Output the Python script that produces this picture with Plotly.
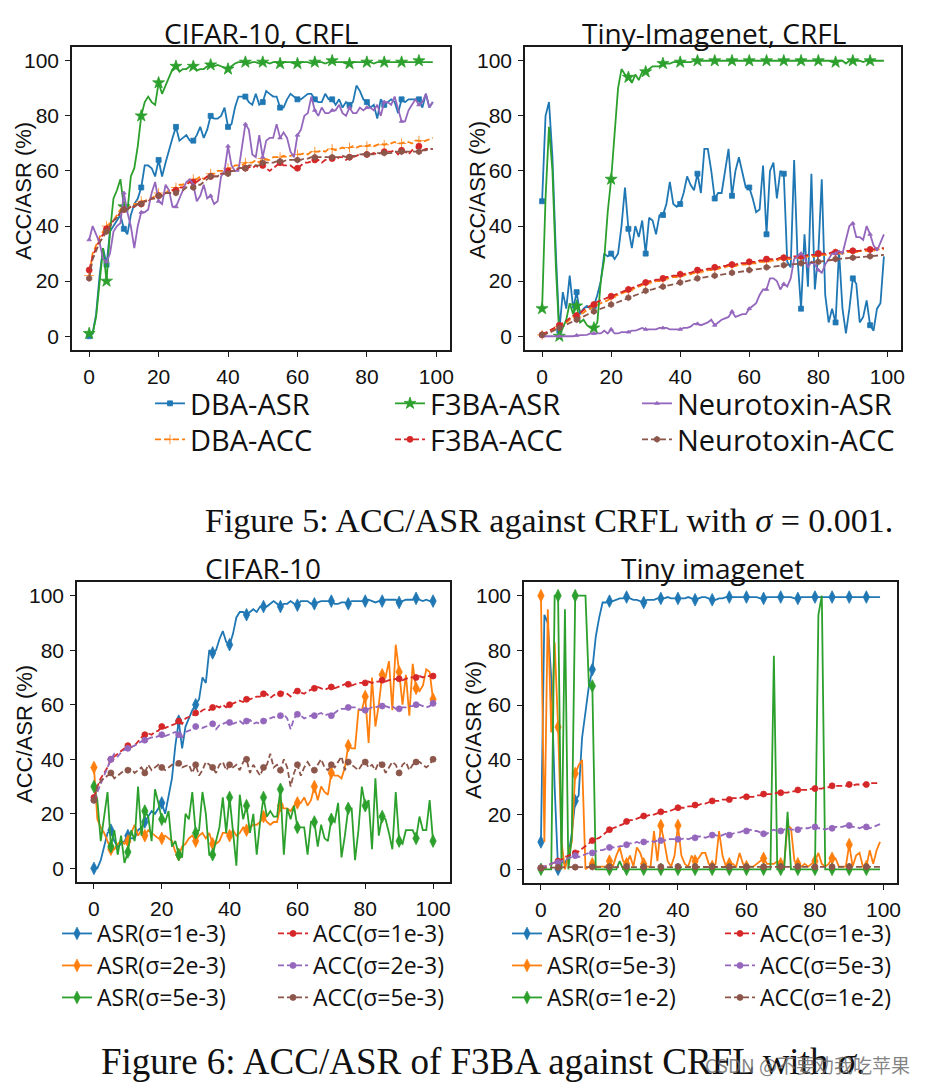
import plotly.graph_objects as go

X100 = list(range(100))
X101 = list(range(101))

# ---------------- Figure 5 left: CIFAR-10, CRFL ----------------
c5_dba_asr = [0, 1, 8, 22, 32, 26, 38, 40, 42, 44,
              39, 37, 44, 48, 50, 54, 62, 62, 61, 58,
              64, 58, 63, 68, 72, 76, 71, 72, 73, 71,
              71, 73, 76, 72, 75, 80, 79, 79, 80, 83,
              76, 77, 83, 87, 87, 87, 85, 84, 88, 84,
              85, 89, 88, 87, 87, 83, 83, 86, 88, 87,
              86, 86, 87, 88, 88, 86, 85, 85, 88, 86,
              86, 84, 86, 83, 85, 84, 85, 91, 89, 86,
              85, 83, 84, 79, 86, 84, 85, 86, 85, 81,
              86, 85, 86, 86, 86, 86, 83, 88, 83, 85]
c5_f3ba_asr = [1, 1, 7, 20, 32, 20, 38, 50, 53, 57,
               47, 45, 58, 61, 69, 80, 85, 87, 85, 84,
               92, 88, 91, 94, 97, 98, 96, 97, 97, 98,
               98, 96.5, 97, 97, 98, 98.5, 98, 98.5, 98, 97.5,
               97, 98, 99, 99.5, 99.5, 99.5, 99, 99.5, 99.5, 99,
               99.5, 99.5, 99, 99.5, 99.5, 99, 99.5, 99.5, 99.5, 99,
               99, 99.5, 99.5, 99.5, 99, 99.5, 99.5, 99.5, 99, 99.5,
               100, 99.5, 99.5, 99.5, 99, 99, 99.5, 99.5, 99.5, 99.5,
               99.5, 99.5, 99, 99.5, 99.5, 99.5, 99.5, 99.5, 99.5, 99.5,
               99.5, 99.5, 99.5, 99.5, 99.5, 100, 99.5, 99.5, 99.5, 99.5]
c5_neuro_asr = [35, 40, 37, 34, 28, 27, 30, 38, 40, 41,
                52, 45, 40, 32, 40, 45, 45, 46, 52, 56,
                49, 48, 55, 53, 47, 47, 50, 53, 56, 57,
                55, 49, 51, 55, 50, 51, 48, 49, 58, 60,
                69, 62, 60, 60, 68, 77, 75, 66, 65, 73,
                65, 71, 72, 72, 77, 72, 74, 72, 67, 65,
                73, 75, 80, 81, 87, 82, 80, 83, 81, 81,
                82, 82, 84, 81, 80, 83, 81, 81, 83, 82,
                83, 83, 82, 84, 80, 85, 85, 84, 87, 82,
                78, 78, 82, 84, 86, 84, 85, 88, 83, 85]
c5_dba_acc = [22, 30, 33, 36, 38, 40, 41, 42, 44, 46,
              47, 47, 47, 48, 48, 49, 49, 50, 50, 51,
              52, 51, 52, 53, 53, 54, 55, 55, 56, 56,
              57, 57, 58, 57, 58, 59, 59, 60, 60, 60,
              61, 61, 62, 62, 62, 63, 63, 63, 64, 63,
              64.5, 64, 64, 65, 65, 65, 65.5, 65, 65.5, 66,
              66, 66, 66.5, 66, 67, 67, 67, 67.5, 67, 68,
              68, 67.5, 68, 68.5, 68, 68.5, 69, 68.5, 69, 69,
              69, 69.5, 69, 69.5, 70, 69.5, 70, 70, 70.5, 70,
              70, 70.5, 70.5, 70, 71, 71, 70.5, 71, 71.5, 72]
c5_f3ba_acc = [24, 29, 32, 35, 37, 39, 40, 42, 43, 45,
               46, 46, 47, 47, 48, 48, 49, 49, 50, 50,
               51, 51, 52, 52, 53, 53, 54, 54, 55, 56,
               56, 56, 57, 57, 58, 58, 58, 58, 59, 59,
               60, 60, 60, 61, 61, 61, 61.5, 61, 62, 61,
               62, 61, 60, 61, 62, 63, 62, 62, 62, 61,
               61, 62, 63, 63, 63.5, 64, 64, 63, 64, 64,
               64.5, 64, 65, 65, 64, 65, 65, 65.5, 66, 66,
               66, 66, 66.5, 66, 66.5, 67, 67, 67, 67.5, 66,
               67.5, 67, 66, 67.5, 68, 69, 67.5, 68, 68, 68]
c5_neuro_acc = [21, 28, 31, 34, 36, 38, 40, 42, 43, 45,
                46, 46, 47, 47, 48, 48, 49, 49, 50, 50,
                51, 51, 52, 52, 52, 52, 53, 53, 54, 54,
                54, 55, 55, 56, 57, 58, 58, 58, 59, 59,
                59, 60, 60, 61, 61, 61, 62, 62, 62, 62,
                63, 63, 63, 63, 63.5, 63.5, 63.5, 64, 64, 64,
                64, 64, 64.5, 64.5, 65, 65, 65, 65, 65, 65,
                65, 65, 65, 65.5, 65, 65, 65.5, 65.5, 66, 66,
                66, 66, 66, 66.5, 66.5, 66.5, 66.5, 66.5, 67, 67,
                67, 67, 67, 67, 67, 67, 67.5, 67.5, 68, 68]

# ---------------- Figure 5 right: Tiny-Imagenet, CRFL ----------------
t5_dba_asr = [49, 80, 85, 65, 30, 2, 16, 10, 22, 10,
              16, 8, 10, 11, 10, 11, 15, 20, 30, 29,
              30, 28, 30, 40, 54, 39, 32, 40, 36, 42,
              30, 43, 42, 37, 44, 44, 48, 56, 48, 47,
              48, 52, 58, 55, 53, 59, 52, 68, 68, 60,
              50, 52, 52, 60, 68, 51, 60, 65, 60, 54,
              54, 50, 45, 46, 62, 37, 60, 63, 50, 60,
              59, 27, 25, 64, 28, 10, 37, 18, 59, 17,
              30, 57, 15, 5, 10, 5, 31, 10, 1, 10,
              21, 19, 5, 7, 13, 4, 2, 10, 12, 29]
t5_f3ba_asr = [10, 50, 76, 60, 25, 0, 3, 6, 12, 8,
               11, 5, 6, 4, 3, 3, 5, 20, 28, 45,
               57, 75, 90, 97, 95, 94, 92, 95, 93, 96,
               96, 97, 98, 98, 98, 99, 99, 99, 99.5, 99.5,
               99.5, 99.5, 99.5, 99.5, 100, 100, 100, 100, 100, 100,
               100, 100, 100, 100, 100, 100, 100, 100, 100, 100,
               100, 100, 100, 100, 100, 100, 100, 100, 100, 100,
               100, 100, 100, 100, 100, 100, 100, 100, 100, 100,
               100, 100, 100, 100, 99.5, 99.5, 100, 100, 99, 100,
               100, 100, 100, 99.5, 100, 100, 100, 100, 100, 100]
t5_neuro_asr = [0, 0, 0, 0, 0, 0, 0, 0, 0, 0,
                0.3, 0.3, 0.5, 0.5, 1, 1, 1, 1, 2, 1,
                2.5, 1, 1, 1.5, 1.5, 1.5, 2, 2, 2.5, 3,
                2.5, 2.5, 2.5, 2.5, 3, 3, 3, 2.5, 2.5, 2.5,
                2.5, 3, 3, 3.5, 4.5, 4.5, 4, 4.5, 5, 6,
                4, 5, 6, 6.5, 7, 9, 7, 7.5, 8, 8,
                10, 11, 12, 15, 17, 17, 21, 21, 20, 17,
                19, 18, 21, 28, 29, 30, 29, 25, 27, 26,
                24, 23, 26, 28, 30, 30, 31, 30, 35, 40,
                41, 36, 36, 35, 40, 37, 33, 31, 34, 37]
t5_dba_acc = [0.5, 1, 1.5, 2, 3, 3.5, 4, 5, 6, 6.5,
              7, 8, 8.5, 9.5, 10, 11, 11.5, 12, 12.5, 13,
              14, 14.5, 15, 15.5, 16, 16.5, 17, 17.5, 18, 18.5,
              19, 19.5, 19.5, 20, 20, 20.5, 21, 21, 21.5, 21.5,
              22, 22, 22.5, 22.5, 23, 23, 23.5, 23.5, 24, 24,
              24.5, 24.5, 25, 25, 25.5, 25.5, 25.5, 26, 26, 26,
              26.5, 26.5, 26.5, 27, 27, 27, 27.5, 27.5, 27.5, 28,
              28, 28, 28, 28.5, 28.5, 28.5, 28.5, 29, 29, 29,
              29.5, 29.5, 29.5, 29.5, 30, 30, 30, 30, 30.5, 30.5,
              30.5, 30.5, 31, 31, 31, 31, 31, 31.5, 31.5, 31.5]
t5_f3ba_acc = [0.5, 1.2, 2, 2.5, 3.5, 4, 4.8, 5.5, 6.5, 7.5,
               7.5, 8.5, 9.5, 10.5, 11, 11.5, 12.5, 13, 13.5, 14,
               14.5, 15, 15.5, 16, 16.5, 17, 17.5, 18, 18.5, 19,
               19.5, 20, 20, 20.5, 20.5, 21, 21.5, 21.5, 22, 22,
               22.5, 22.5, 23, 23, 23.5, 24, 24, 24, 24.5, 24.5,
               25, 25, 25.5, 25.5, 26, 26, 26, 26.5, 26.5, 26.5,
               27, 27, 27, 27.5, 27.5, 28, 28, 28, 28, 28.5,
               28.5, 28.5, 28.5, 29, 29, 29, 29, 29.5, 29.5, 29.5,
               30, 30, 30, 30, 30.5, 30.5, 30.5, 30.5, 31, 31,
               31, 31, 31, 31.5, 31.5, 31.5, 31.5, 32, 32, 32]
t5_neuro_acc = [0.5, 0.8, 1.2, 1.8, 2.4, 3, 3.5, 4.2, 4.8, 5.5,
                6, 6.5, 7, 7.8, 8.5, 9, 9.5, 10, 10.5, 11,
                11.5, 12, 12.5, 13, 13.5, 14, 14.5, 15, 15.5, 16,
                16.5, 16.8, 17, 17.5, 17.8, 18, 18.3, 18.7, 19, 19.2,
                19.5, 19.8, 20, 20.3, 20.6, 21, 21.2, 21.4, 21.6, 21.8,
                22, 22.2, 22.4, 22.6, 22.8, 23, 23.2, 23.4, 23.6, 23.8,
                24, 24.2, 24.3, 24.5, 24.7, 25, 25.1, 25.3, 25.5, 25.6,
                25.8, 25.9, 26, 26.2, 26.3, 26.5, 26.6, 26.7, 26.8, 27,
                27, 27.2, 27.4, 27.6, 27.8, 28, 28.1, 28.2, 28.3, 28.5,
                28.5, 28.6, 28.7, 28.8, 28.9, 29, 29, 29.2, 29.3, 29.5]

# ---------------- Figure 6 left: CIFAR-10 ----------------
c6_asr_1 = [0, 0, 3, 8, 13, 14, 10, 8, 9, 10,
            12, 11, 11, 14, 15, 17, 19, 21, 20, 22,
            24, 20, 27, 33, 45, 54, 44, 52, 55, 58,
            60, 62, 70, 68, 80, 79, 80, 84, 87, 83,
            82, 86, 92, 94, 94, 93, 94, 95, 94, 96,
            96, 96, 97, 98, 97, 96, 97, 97, 98, 97,
            96.5, 98, 98, 98, 97, 97, 97.5, 98, 98, 98,
            98, 97, 97, 97.5, 97.5, 97, 98, 98, 98, 98,
            98, 98.5, 98, 97.5, 98, 98, 98.5, 98.5, 98.5, 98.5,
            97.5, 98, 98.5, 98.5, 98.5, 99, 98.5, 98, 98.5, 98,
            98]
c6_asr_2 = [37, 18, 15, 13, 10, 7, 7, 9, 10, 9,
            10, 13, 16, 12, 14, 12, 14, 13, 12, 11,
            11, 12, 11, 10, 6, 5, 8, 9, 11, 12,
            10, 12, 13, 11, 13, 9, 9, 10, 13, 13,
            12, 14, 12, 13, 15, 14, 15, 16, 16, 17,
            19, 17, 16, 17, 17, 23, 22, 22, 21, 23,
            24, 24, 26, 23, 25, 30, 25, 30, 28, 27,
            35, 34, 34, 33, 37, 45, 44, 44, 58, 58,
            63, 46, 70, 52, 60, 71, 70, 76, 58, 82,
            72, 60, 71, 56, 75, 66, 65, 67, 73, 72,
            62]
c6_asr_5 = [30, 25, 10, 20, 28, 8, 14, 5, 12, 2,
            6, 14, 10, 30, 12, 21, 19, 10, 29, 24,
            18, 17, 21, 8, 10, 5, 4, 20, 18, 28,
            13, 14, 28, 20, 5, 5, 10, 15, 26, 13,
            26, 12, 1, 27, 18, 23, 13, 20, 5, 17,
            26, 19, 21, 19, 19, 29, 5, 22, 18, 23,
            15, 15, 15, 5, 17, 17, 8, 16, 11, 10,
            18, 17, 24, 4, 12, 22, 22, 3, 14, 30,
            23, 25, 7, 33, 12, 19, 18, 13, 7, 28,
            10, 9, 14, 14, 14, 11, 19, 14, 14, 25,
            10]
c6_acc_1 = [26, 30, 33, 35, 37, 40, 41, 42, 43, 44,
            45, 44.5, 45, 46.5, 48, 49, 49.5, 49, 50, 50.5,
            52, 51.5, 52, 52.5, 53, 54, 53, 55, 55.5, 56,
            57, 57, 58, 58.5, 58, 59, 59.5, 59, 60, 59,
            60, 60.5, 61, 61.5, 61, 62, 62, 62.5, 63, 63,
            64, 64, 62.5, 63.5, 64, 64, 64.5, 64, 63, 64.5,
            65, 64.5, 64, 65, 65.5, 66, 66.5, 66, 65.5, 66,
            66.5, 66, 66.5, 67, 67.5, 67.5, 67, 67.5, 68, 68,
            68, 68.5, 68, 68.5, 68.5, 69, 68.5, 69, 69, 69.5,
            69.5, 69, 69.5, 70, 70, 70, 70.5, 70, 70.5, 70.5,
            70.5]
c6_acc_2 = [25, 28, 31, 34, 37, 40, 42, 41, 42.5, 43.5,
            44, 44.5, 45, 46, 46.5, 47, 47.5, 48, 48, 48.5,
            49, 48.5, 49, 49.5, 50, 49, 48, 50, 50.5, 51,
            52, 52, 51.5, 52, 52.5, 53, 51, 52.5, 53, 53.5,
            53.5, 53, 53.5, 54, 53, 54, 54.5, 53, 53.5, 53,
            54, 54.5, 55, 55.5, 55, 56, 56.5, 55, 51, 55,
            56.5, 56, 55, 55.5, 56, 56, 56.5, 57, 56, 56.5,
            56, 57, 58, 58.5, 58.5, 59, 59, 59, 58.5, 58,
            58, 58.5, 59, 59, 59.5, 59.5, 59.5, 59, 59.5, 58.5,
            58.5, 59, 59, 59.5, 59.5, 60, 60, 59.5, 59, 59.5,
            60.5]
c6_acc_5 = [25, 30, 32, 33, 34, 35, 33, 34, 35, 36,
            36, 36.5, 35, 36, 37, 35, 38, 36, 37, 38,
            37, 36, 37, 38, 37.5, 38.5, 37, 37.5, 38, 35,
            38, 34, 36, 39, 38, 37, 35, 38, 39, 36,
            38, 37, 38, 36, 39, 40, 35, 38, 36, 34,
            37, 38, 42, 37, 38, 36, 40, 37, 30, 35,
            38, 34, 37, 39, 37, 36, 38, 40, 37, 36,
            38, 37, 39, 41, 36, 39, 38, 37, 36, 38,
            39, 37, 38, 36, 39, 38, 35, 37, 39, 38,
            35, 38, 39, 36, 38, 39, 39, 38, 37, 38,
            40]

# ---------------- Figure 6 right: Tiny imagenet ----------------
t6_asr_1 = [10, 93, 90, 70, 30, 0, 3, 2, 5, 13,
            25, 27, 48, 58, 67, 73, 85, 92, 97.5, 97.5,
            98, 98, 98.5, 99, 99, 99.5, 99, 98.5, 98.5, 98,
            97.5, 98.5, 98.5, 98.5, 99, 99, 99, 99.5, 99, 99,
            99, 99, 99, 99.5, 99, 98.5, 99, 99.5, 99.5, 99,
            98.5, 98.5, 99, 99, 99.5, 99.5, 99.5, 99.5, 99.5, 99.5,
            99.5, 99.5, 99.5, 99.5, 99, 99, 99.5, 99.5, 99.5, 99.5,
            99.5, 99.5, 99.5, 99.5, 99, 99, 99.5, 99.5, 99.5, 99.5,
            99.5, 99.5, 99.5, 99.5, 99.5, 99.5, 99.5, 99.5, 99.5, 99.5,
            99.5, 99.5, 99.5, 99.5, 99.5, 99.5, 99.5, 99.5, 99.5, 99.5]
t6_asr_5 = [100, 10, 95, 50, 83, 52, 10, 0, 5, 10,
            35, 38, 40, 0, 1, 2, 1, 1, 1, 1,
            3, 1, 5, 8, 3, 2, 5, 1, 8, 6,
            2, 1, 1, 14, 3, 16, 10, 3, 1, 5,
            16, 5, 2, 1, 5, 3, 4, 6, 6, 2,
            1, 2, 14, 5, 1, 2, 2, 1, 6, 2,
            1, 1, 1, 2, 3, 4, 2, 2, 2, 3,
            2, 2, 16, 15, 3, 2, 1, 2, 1, 2,
            3, 6, 2, 1, 2, 4, 4, 1, 1, 1,
            9, 1, 5, 6, 1, 1, 7, 2, 7, 10]
t6_asr_10 = [0, 0, 0, 0, 100, 100, 0, 95, 0, 12,
             100, 100, 100, 100, 67, 67, 0, 0, 0, 0,
             0, 0, 0, 3, 0, 0, 0, 0, 0, 0,
             0, 0, 0, 0, 0, 0, 0, 0, 0, 0,
             0, 0, 0, 0, 0, 0, 0, 0, 0, 0,
             0, 0, 0, 0, 0, 0, 0, 0, 0, 0,
             0, 0, 0, 0, 0, 0, 0, 0, 78, 0,
             0, 0, 21, 0, 0, 0, 0, 0, 0, 0,
             0, 93, 100, 0, 0, 0, 0, 0, 0, 0,
             0, 0, 0, 0, 0, 0, 0, 0, 0, 0]
t6_acc_1 = [0.5, 1, 1.5, 2, 2.5, 3, 3.5, 4.5, 5, 5.5,
            6, 6.5, 7.5, 8.5, 9.5, 10.5, 11, 11.5, 12.5, 13.5,
            14.5, 15, 15.5, 16, 16.5, 17.5, 18, 18, 18.5, 19,
            19.5, 19.5, 20, 20, 20.5, 21, 21, 21, 21.5, 22,
            22.5, 22.5, 22.5, 23, 23, 23.5, 23.5, 24, 24, 24.5,
            25, 25, 25, 25.5, 25.5, 25.5, 26, 26, 26, 26.5,
            26.5, 26.5, 26.5, 27, 27, 27.5, 27.5, 27.5, 27.5, 28,
            28, 28, 28, 28.5, 28.5, 29, 29, 29, 29, 29.5,
            29.5, 29.5, 29.5, 30, 30, 30.5, 30.5, 30.5, 30.5, 30.5,
            31, 30.5, 31, 31, 31, 31, 31.5, 31.5, 31.5, 32]
t6_acc_5 = [0.5, 1, 1.5, 2, 2.5, 2.5, 3, 3.5, 4, 4.5,
            5, 4.5, 5, 5.5, 6, 6, 6.5, 7, 7, 7.5,
            8, 8, 8, 8.5, 8.5, 9, 9.5, 9.5, 10, 9.5,
            10, 10, 10.5, 10, 10.5, 10.5, 10.5, 11, 11, 11,
            11, 11, 11.5, 11, 11.5, 11.5, 12, 12, 11.5, 12,
            12.5, 12.5, 12, 12.5, 13, 12.5, 13, 13.5, 13.5, 14,
            14, 14.5, 14, 14, 13.5, 13, 13, 14, 14.5, 14,
            14, 14.5, 15, 14.5, 14.5, 14.5, 15, 15, 15, 15.5,
            15.5, 15, 15, 14.5, 15, 15, 15.5, 15.5, 15.5, 16,
            16, 15.5, 15.5, 15, 15.5, 15.5, 15, 15.5, 16, 16.5]
t6_acc_10 = [0.5, 0.5, 0.6, 0.6, 0.7, 0.7, 0.7, 0.8, 0.8, 0.8,
             0.8, 0.8, 0.9, 0.8, 0.9, 0.9, 0.9, 0.9, 0.8, 0.9,
             0.9, 0.9, 1.0, 0.9, 0.9, 1.0, 0.9, 0.9, 1.0, 0.9,
             0.9, 1.0, 0.9, 1.0, 0.9, 0.9, 1.0, 0.9, 1.0, 0.9,
             1.0, 0.9, 1.0, 0.9, 0.9, 1.0, 0.9, 1.0, 0.9, 0.9,
             1.0, 0.9, 1.0, 0.9, 1.0, 0.9, 0.9, 1.0, 0.9, 1.0,
             0.9, 1.0, 0.9, 0.9, 1.0, 0.9, 1.0, 0.9, 1.0, 0.9,
             1.0, 0.9, 1.0, 0.9, 0.9, 1.0, 0.9, 1.0, 0.9, 1.0,
             0.9, 1.0, 0.9, 1.0, 0.9, 0.9, 1.0, 0.9, 1.0, 0.9,
             1.0, 0.9, 1.0, 0.9, 1.0, 0.9, 1.0, 0.9, 1.0, 0.9]

TICKS = [0, 20, 40, 60, 80, 100]

BLUE, ORANGE, GREEN = "#1f77b4", "#ff7f0e", "#2ca02c"
RED, PURPLE, BROWN = "#d62728", "#9467bd", "#8c564b"
DASH = "6px,3px"

# The page body has an 8px margin; the figure is sized to fill the rest of the window
OFF = 8
W, H = 928 - OFF, 1086 - OFF


def px_x(p):
    return (p - OFF) / W


def px_y(p):
    return 1 - (p - OFF) / H


fig = go.Figure()
legends = {}
leg_font_top = dict(family="Open Sans", size=29, color="#111")
leg_font_bot = dict(family="Open Sans", size=23, color="#111")


def add(ax, x, y, name, color, dash, symbol, msize, legpos=None, big=True):
    sel = [i for i in range(len(x)) if i % 5 == 0]
    kw = {}
    if legpos is not None:
        lname = "legend" if not legends else "legend%d" % (len(legends) + 1)
        tx, ty = legpos
        font = leg_font_top if big else leg_font_bot
        dy = 27 if big else 21
        legends[lname] = dict(x=px_x(tx - 40), y=px_y(ty - dy), xanchor="left", yanchor="top",
                              font=font, bgcolor="rgba(0,0,0,0)", borderwidth=0,
                              tracegroupgap=0, itemwidth=30)
        kw = dict(legend=lname, showlegend=True)
    else:
        kw = dict(showlegend=False)
    fig.add_trace(go.Scatter(
        x=x, y=y, xaxis="x" + ax, yaxis="y" + ax, name=name,
        mode="lines+markers",
        line=dict(color=color, width=1.8, dash=dash),
        marker=dict(symbol=symbol, size=msize, color=color,
                    line=dict(width=0.8, color=color)),
        selectedpoints=sel,
        selected=dict(marker=dict(opacity=1)),
        unselected=dict(marker=dict(opacity=0)),
        **kw))


# Figure 5 (top): legend entries from the left panel only
TOP_COLS = [190, 430, 677]
TOP_ROWS = [405, 441]
for ax, data, show in [("", (c5_dba_asr, c5_dba_acc, c5_f3ba_asr, c5_f3ba_acc, c5_neuro_asr, c5_neuro_acc), True),
                       ("2", (t5_dba_asr, t5_dba_acc, t5_f3ba_asr, t5_f3ba_acc, t5_neuro_asr, t5_neuro_acc), False)]:
    def lp(c, r):
        return (TOP_COLS[c], TOP_ROWS[r]) if show else None
    add(ax, X100, data[0], "DBA-ASR", BLUE, "solid", "square", 5, lp(0, 0))
    add(ax, X100, data[1], "DBA-ACC", ORANGE, DASH, "cross-thin", 7, lp(0, 1))
    add(ax, X100, data[2], "F3BA-ASR", GREEN, "solid", "star", 9, lp(1, 0))
    add(ax, X100, data[3], "F3BA-ACC", RED, DASH, "circle", 6, lp(1, 1))
    add(ax, X100, data[4], "Neurotoxin-ASR", PURPLE, "solid", "triangle-up", 4, lp(2, 0))
    add(ax, X100, data[5], "Neurotoxin-ACC", BROWN, DASH, "hexagon", 6, lp(2, 1))

# Figure 6 (bottom)
BOT_COLS = [97, 313, 547, 760]
BOT_ROWS = [933, 965, 997]
add("3", X101, c6_asr_1, "ASR(σ=1e-3)", BLUE, "solid", "diamond-tall", 9, (BOT_COLS[0], BOT_ROWS[0]), False)
add("3", X101, c6_asr_2, "ASR(σ=2e-3)", ORANGE, "solid", "diamond-tall", 9, (BOT_COLS[0], BOT_ROWS[1]), False)
add("3", X101, c6_asr_5, "ASR(σ=5e-3)", GREEN, "solid", "diamond-tall", 9, (BOT_COLS[0], BOT_ROWS[2]), False)
add("3", X101, c6_acc_1, "ACC(σ=1e-3)", RED, DASH, "circle", 6, (BOT_COLS[1], BOT_ROWS[0]), False)
add("3", X101, c6_acc_2, "ACC(σ=2e-3)", PURPLE, DASH, "circle", 6, (BOT_COLS[1], BOT_ROWS[1]), False)
add("3", X101, c6_acc_5, "ACC(σ=5e-3)", BROWN, DASH, "circle", 6, (BOT_COLS[1], BOT_ROWS[2]), False)

add("4", X100, t6_asr_1, "ASR(σ=1e-3)", BLUE, "solid", "diamond-tall", 9, (BOT_COLS[2], BOT_ROWS[0]), False)
add("4", X100, t6_asr_5, "ASR(σ=5e-3)", ORANGE, "solid", "diamond-tall", 9, (BOT_COLS[2], BOT_ROWS[1]), False)
add("4", X100, t6_asr_10, "ASR(σ=1e-2)", GREEN, "solid", "diamond-tall", 9, (BOT_COLS[2], BOT_ROWS[2]), False)
add("4", X100, t6_acc_1, "ACC(σ=1e-3)", RED, DASH, "circle", 6, (BOT_COLS[3], BOT_ROWS[0]), False)
add("4", X100, t6_acc_5, "ACC(σ=5e-3)", PURPLE, DASH, "circle", 6, (BOT_COLS[3], BOT_ROWS[1]), False)
add("4", X100, t6_acc_10, "ACC(σ=1e-2)", BROWN, DASH, "circle", 6, (BOT_COLS[3], BOT_ROWS[2]), False)

axis_base = dict(showline=True, linecolor="#1a1a1a", linewidth=1.6, mirror=True,
                 ticks="outside", ticklen=5, tickwidth=1.2, tickcolor="#1a1a1a",
                 showgrid=False, zeroline=False, tickvals=TICKS, automargin=False,
                 ticklabelstandoff=2,
                 tickfont=dict(family="Liberation Sans, Arial", size=21, color="#111"))

layout = dict(
    width=W, height=H, margin=dict(l=0, r=0, t=0, b=0, autoexpand=False),
    paper_bgcolor="white", plot_bgcolor="white", showlegend=True,
    font=dict(family="Liberation Sans, Arial", color="#111"),
)

panels = {
    "": ((72, 450), (47, 350), [-4.95, 103.95]),
    "2": ((525, 901), (47, 350), [-4.95, 103.95]),
    "3": ((77, 450), (582, 882), [-5, 105]),
    "4": ((524, 897), (582, 883), [-4.95, 103.95]),
}
for ax, ((x0, x1), (y0, y1), xr) in panels.items():
    layout["xaxis" + ax] = dict(axis_base, domain=[px_x(x0), px_x(x1)], range=xr,
                                anchor="y" + ax)
    layout["yaxis" + ax] = dict(axis_base, domain=[px_y(y1), px_y(y0)], range=[-5, 105],
                                anchor="x" + ax)

layout.update(legends)

ann = []
title_font = dict(family="Open Sans", size=28, color="#111")
for text, xc, yc in [("CIFAR-10, CRFL", 261, 33), ("Tiny-Imagenet, CRFL", 714, 33),
                     ("CIFAR-10", 263, 568), ("Tiny imagenet", 712, 568)]:
    ann.append(dict(text=text, x=px_x(xc), y=px_y(yc), xref="paper", yref="paper",
                    xanchor="center", yanchor="middle", showarrow=False, font=title_font))
ylab_font = dict(family="Liberation Sans, Arial", size=22, color="#111")
for xc, yc in [(23, 191), (478, 190), (24, 734), (473, 730)]:
    ann.append(dict(text="ACC/ASR (%)", x=px_x(xc), y=px_y(yc), xref="paper", yref="paper",
                    xanchor="center", yanchor="middle", textangle=-90, showarrow=False,
                    font=ylab_font))
cap_font = dict(family="Liberation Serif, Times New Roman", size=34, color="#111")
ann.append(dict(text="Figure 5: ACC/ASR against CRFL with <i>σ</i> = 0.001.",
                x=px_x(549), y=px_y(520), xref="paper", yref="paper",
                xanchor="center", yanchor="middle", showarrow=False, font=cap_font))
ann.append(dict(text="Figure 6: ACC/ASR of F3BA against CRFL with <i>σ</i>.",
                x=px_x(483), y=px_y(1061), xref="paper", yref="paper",
                xanchor="center", yanchor="middle", showarrow=False,
                font=dict(cap_font, size=37)))
ann.append(dict(text="CSDN @不要劝我吃苹果", x=px_x(912), y=px_y(1064), xref="paper", yref="paper",
                xanchor="right", yanchor="middle", showarrow=False,
                font=dict(family="Noto Sans CJK SC", size=19, color="rgba(110,110,110,0.85)")))
layout["annotations"] = ann

fig.update_layout(**layout)
fig.write_html("out.html")
